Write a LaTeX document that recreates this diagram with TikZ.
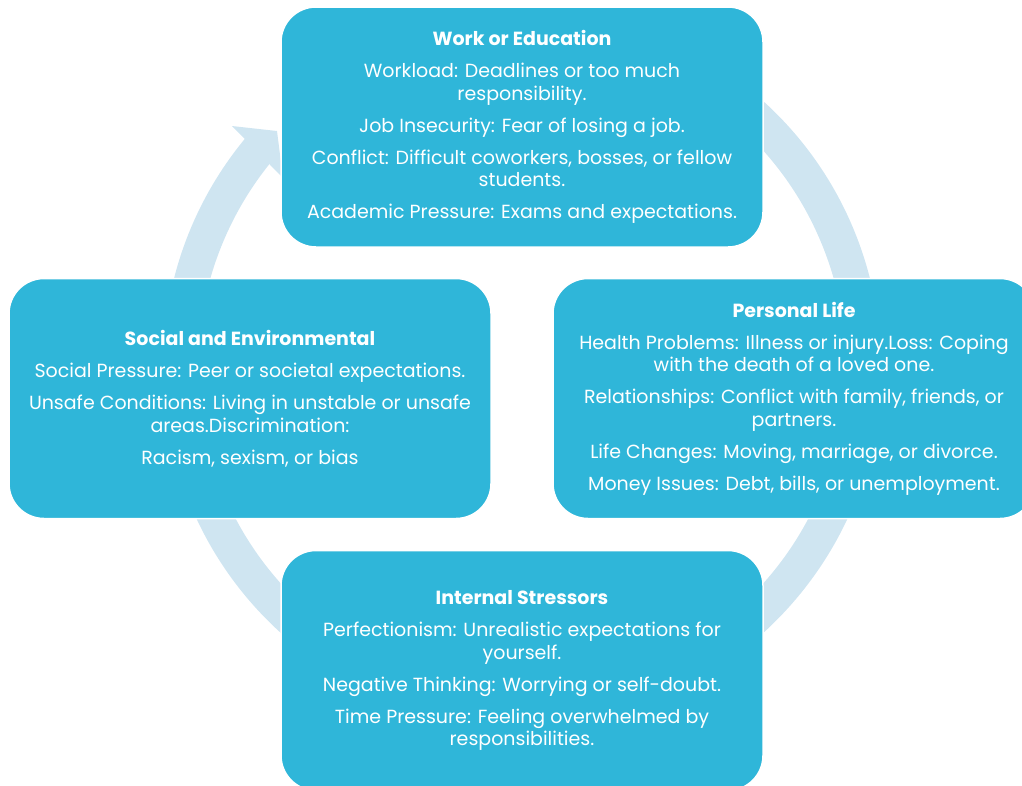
\documentclass[tikz,border=0pt]{standalone}
\usepackage{fontspec}
\setmainfont{Poppins}
\definecolor{boxfill}{HTML}{2FB6D9}
\definecolor{ringc}{HTML}{CFE5F1}
\begin{document}
\begin{tikzpicture}[x=1pt,y=1pt,
  stressbox/.style={draw=white, line width=1.5pt, fill=boxfill, rounded corners=35pt,
    minimum width=482pt, minimum height=240pt, text=white, align=center, inner sep=0pt,
    font=\fontsize{19}{22.5}\selectfont},
  ring/.style={fill=ringc, draw=none}]
\useasboundingbox (0,0) rectangle (1022,-785);
\coordinate (c) at (522,-367);
% ring band
\fill[ring] ([shift={(139:359)}]c) arc[start angle=139, end angle=470, radius=359]
  -- ([shift={(470:324)}]c) arc[start angle=470, end angle=139, radius=324] -- cycle;
% arrowhead
\coordinate (b1) at (232,-126);
\coordinate (tip) at (277,-131);
\coordinate (b2) at (283,-178);
\fill[ring] (b1) -- (tip) -- (b2) -- cycle;
% boxes
\node[stressbox] (work) at (522,-127) {\textbf{Work or Education}\\[9.5pt]
Workload: Deadlines or too much\\ responsibility.\\[9.5pt]
Job Insecurity: Fear of losing a job.\\[9.5pt]
Conflict: Difficult coworkers, bosses, or fellow\\ students.\\[9.5pt]
Academic Pressure: Exams and expectations.};
\node[stressbox] (social) at (250,-398.5) {\textbf{Social and Environmental}\\[9.5pt]
Social Pressure: Peer or societal expectations.\\[9.5pt]
Unsafe Conditions: Living in unstable or unsafe\\ areas.Discrimination:\\[9.5pt]
Racism, sexism, or bias};
\node[stressbox] (personal) at (794,-398.5) {\textbf{Personal Life}\\[9.5pt]
Health Problems: Illness or injury.Loss: Coping\\ with the death of a loved one.\\[9.5pt]
Relationships: Conflict with family, friends, or\\ partners.\\[9.5pt]
Life Changes: Moving, marriage, or divorce.\\[9.5pt]
Money Issues: Debt, bills, or unemployment.};
\node[stressbox] (internal) at (522,-670.5) {\textbf{Internal Stressors}\\[9.5pt]
Perfectionism: Unrealistic expectations for\\ yourself.\\[9.5pt]
Negative Thinking: Worrying or self-doubt.\\[9.5pt]
Time Pressure: Feeling overwhelmed by\\ responsibilities.};
\end{tikzpicture}
\end{document}
